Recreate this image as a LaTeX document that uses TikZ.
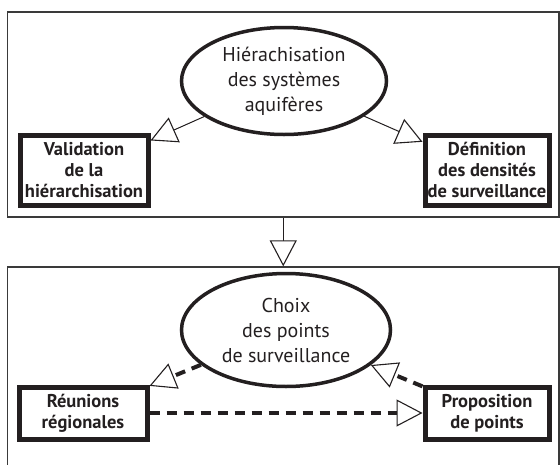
\documentclass[tikz,border=0pt]{standalone}
\usepackage{fontspec}
\setmainfont{PT Sans}
\usepackage{tikz}
\usetikzlibrary{shapes.geometric,arrows.meta}
\definecolor{encre}{HTML}{231F20}
\definecolor{trait}{HTML}{3A3A3A}

\begin{document}
\begin{tikzpicture}[x=1pt, y=-1pt,
    cadre/.style={draw=trait, line width=1.3pt, inner sep=0pt},
    bulle/.style={ellipse, draw=encre, line width=3.5pt, inner sep=0pt, align=center, text=encre,
      font=\fontsize{20}{25}\selectfont},
    boite/.style={rectangle, draw=encre, line width=5pt, inner sep=0pt, align=center, text=encre,
      font=\fontsize{18.5}{21}\selectfont\bfseries},
    pointe/.style={-{Triangle[open, length=26pt, width=27pt, line width=1.1pt, fill=white]}},
    fleche/.style={pointe, draw=encre, line width=1pt},
    tirets/.style={pointe, draw=encre, line width=4pt, dash pattern=on 10pt off 7pt}]
    \clip (0,0) rectangle (560,464);

    % Frames
    \node[cadre, minimum width=551.5pt, minimum height=205pt] (haut) at (283.25, 114.5) {};
    \node[cadre, minimum width=551.5pt, minimum height=213pt] (bas) at (283.25, 373.5) {};

    % Top frame
    \node[bulle, minimum width=205pt, minimum height=107pt] (hier) at (284, 81) {Hiérachisation\\des systèmes\\aquifères};
    \node[boite, minimum width=128pt, minimum height=70pt] (valid) at (84, 170) {Validation\\de la\\hiérarchisation};
    \node[boite, minimum width=124pt, minimum height=70pt] (densite) at (487, 170) {Définition\\des densités\\de surveillance};

    % Bottom frame
    \node[bulle, minimum width=209pt, minimum height=113pt] (choix) at (286, 330) {Choix\\des points\\de surveillance};
    \node[boite, minimum width=128pt, minimum height=52pt] (reunion) at (83, 413) {Réunions\\régionales};
    \node[boite, minimum width=124pt, minimum height=52pt] (propos) at (487, 413) {Proposition\\de points};

    % Arrows
    \draw[fleche] (hier) -- (valid);
    \draw[fleche] (hier) -- (densite);
    \draw[fleche] (haut.south) -- (bas.north);
    \draw[tirets] (choix) -- (reunion);
    \draw[tirets] (propos) -- (choix);
    \draw[tirets] (reunion) -- (propos);
\end{tikzpicture}
\end{document}
